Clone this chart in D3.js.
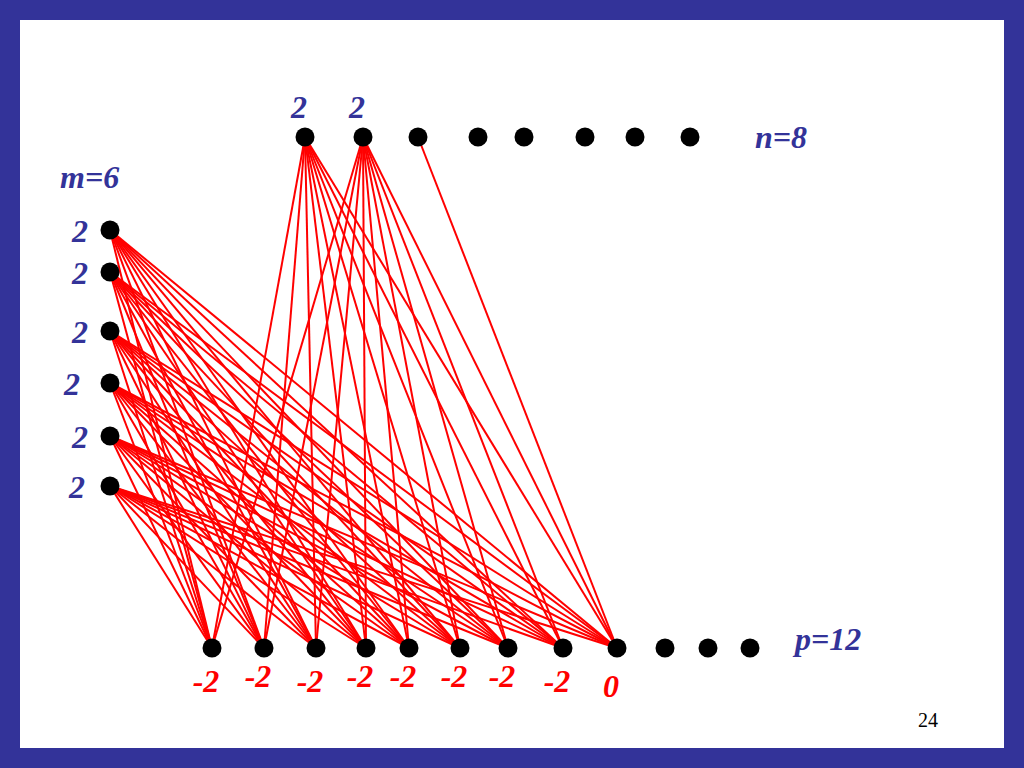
<!DOCTYPE html><html><head><meta charset="utf-8">
<script src="https://cdn.jsdelivr.net/npm/d3@7/dist/d3.min.js"></script>
<style>body{margin:0;background:#fff}</style></head><body><svg width="1024" height="768"></svg>
<script>
const leftLabels=["2","2","2","2","2","2"];
const leftY=[230,272,331,383,436,486];
const topLabels=["2","2","","","","","",""];
const topX=[305,363,418,478,524,585,635,690];
const bottomLabels=["-2","-2","-2","-2","-2","-2","-2","-2","0","","",""];
const bottomX=[212,264,316,366,409,460,508,563,617,665,708,750];
const topEdges=[[0,[0,1,2,3,4,5,6,7,8]],[1,[0,1,2,3,4,5,6,7,8]],[2,[8]]];
const leftEdges=[0,1,2,3,4,5,6,7,8];
const svg=d3.select("svg");
const blue="#333399",red="#ff0000";
svg.append("rect").attr("x",10).attr("y",10).attr("width",1004).attr("height",748).attr("fill","none").attr("stroke",blue).attr("stroke-width",20);
const LX=110,TY=137,BY=648;
const g=svg.append("g");
leftY.forEach(y=>leftEdges.forEach(b=>g.append("line").attr("x1",LX).attr("y1",y).attr("x2",bottomX[b]).attr("y2",BY).attr("stroke",red).attr("stroke-width",2)));
topEdges.forEach(([t,bs])=>bs.forEach(b=>g.append("line").attr("x1",topX[t]).attr("y1",TY).attr("x2",bottomX[b]).attr("y2",BY).attr("stroke",red).attr("stroke-width",2)));
const dot=(x,y)=>svg.append("circle").attr("cx",x).attr("cy",y).attr("r",9.5).attr("fill","#000");
leftY.forEach(y=>dot(LX,y));topX.forEach(x=>dot(x,TY));bottomX.forEach(x=>dot(x,BY));
const txt=(x,y,t,c,a)=>svg.append("text").attr("x",x).attr("y",y).attr("fill",c).attr("text-anchor",a||"middle").attr("font-family","Liberation Serif, serif").attr("font-style","italic").attr("font-weight","bold").attr("font-size",32).text(t);
const lx=[80,80,80,72,80,77];
leftY.forEach((y,i)=>txt(lx[i],y+12,leftLabels[i],blue));
topX.forEach((x,i)=>topLabels[i]&&txt(x-6,118,topLabels[i],blue));
const by=[692,687,692,687,687,687,687,692,697];
bottomX.forEach((x,i)=>bottomLabels[i]&&txt(x-6,by[i]||690,bottomLabels[i],red));
txt(60,188,"m=6",blue,"start");
txt(755,148,"n=8",blue,"start");
txt(795,650,"p=12",blue,"start");
svg.append("text").attr("x",928).attr("y",727).attr("text-anchor","middle").attr("font-family","Liberation Serif, serif").attr("font-size",20).text("24");
</script></body></html>
